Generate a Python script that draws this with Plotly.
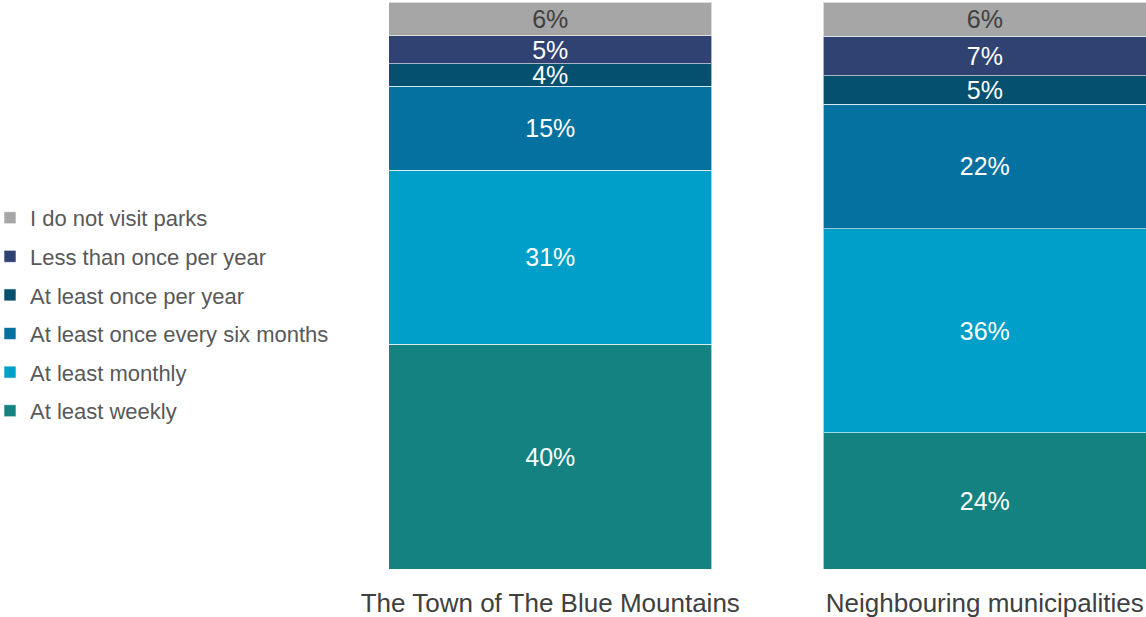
import plotly.graph_objects as go

categories = ["The Town of The Blue Mountains", "Neighbouring municipalities"]
series_names = [
    "At least weekly",
    "At least monthly",
    "At least once every six months",
    "At least once per year",
    "Less than once per year",
    "I do not visit parks",
]
series_values = [
    [40, 24],
    [31, 36],
    [15, 22],
    [4, 5],
    [5, 7],
    [6, 6],
]
colors = ["#138281", "#009FC9", "#0571A1", "#05506F", "#2F4272", "#A6A6A6"]
text_colors = ["white", "white", "white", "white", "white", "#404040"]

fig = go.Figure()
n = len(series_names)
for i, (name, vals) in enumerate(zip(series_names, series_values)):
    fig.add_trace(go.Bar(
        name=name,
        x=categories,
        y=vals,
        width=0.743,
        marker=dict(color=colors[i], line=dict(color="rgba(255,255,255,0.6)", width=1)),
        text=[f"{v}%" for v in vals],
        textposition="inside",
        insidetextanchor="middle",
        textangle=0,
        constraintext="none",
        textfont=dict(family="Liberation Sans, Arial", size=25, color=text_colors[i]),
        legendgroup=f"g{i}",
        legendrank=n - i,
        hoverinfo="skip",
    ))

fig.update_layout(
    barmode="stack",
    barnorm="percent",
    width=1146,
    height=617,
    margin=dict(l=333, r=0, t=2, b=48, autoexpand=False),
    paper_bgcolor="white",
    plot_bgcolor="white",
    font=dict(family="Liberation Sans, Arial", color="#595959"),
    legend=dict(
        x=-0.4219,
        xanchor="left",
        y=0.449,
        yanchor="middle",
        traceorder="grouped",
        tracegroupgap=7,
        font=dict(size=22, color="#595959"),
        itemwidth=30,
    ),
    xaxis=dict(
        type="category",
        range=[-0.5, 1.371],
        showgrid=False,
        showline=False,
        ticks="",
        tickfont=dict(family="Liberation Sans, Arial", size=26, color="#404040"),
        ticklabelstandoff=16,
    ),
    yaxis=dict(
        range=[0, 100],
        showgrid=False,
        showticklabels=False,
        zeroline=False,
        showline=False,
    ),
)

fig.write_html(
    "out.html",
    config={"displayModeBar": False},
    post_script="document.body.style.margin='0';document.body.style.overflow='hidden';",
)
